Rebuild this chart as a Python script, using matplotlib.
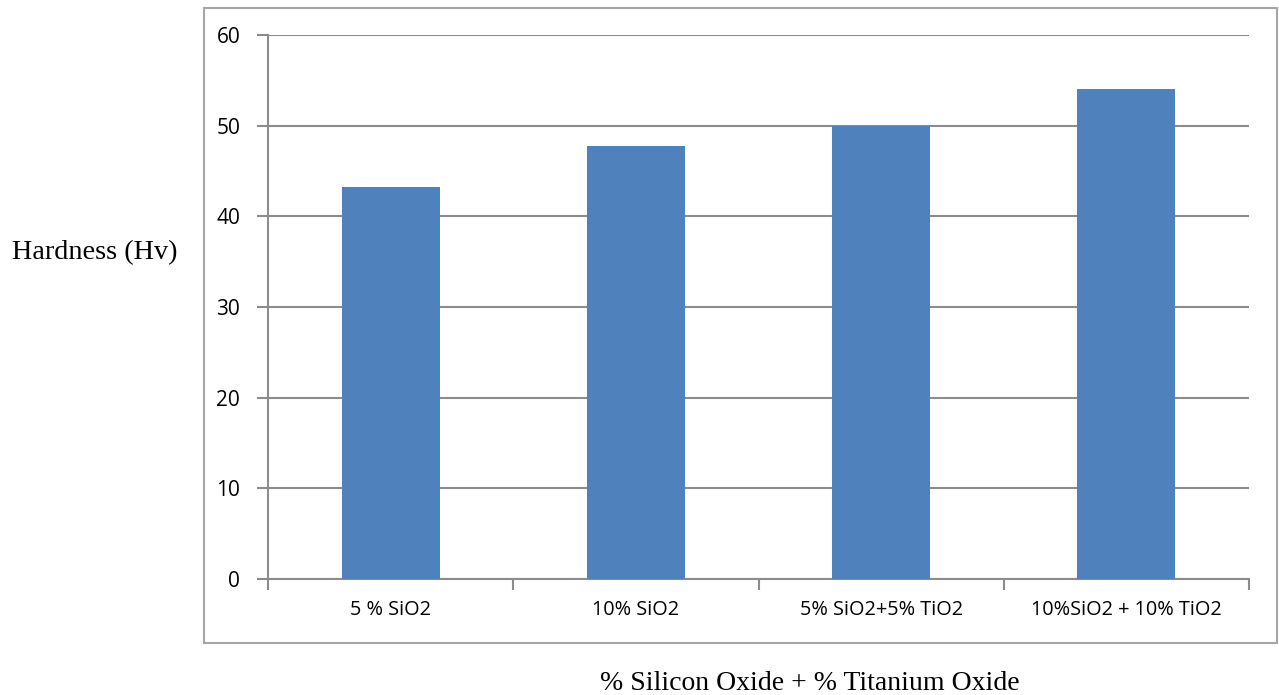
import matplotlib.pyplot as plt
from matplotlib.patches import Rectangle
import numpy as np

categories = ['5 % SiO2', '10% SiO2', '5% SiO2+5% TiO2', '10%SiO2 + 10% TiO2']
hardness = [43.2, 47.8, 50.0, 54.0]
yticks = [0, 10, 20, 30, 40, 50, 60]

grey = '#8c8c8c'

fig = plt.figure(figsize=(12.79, 6.95), dpi=100)
ax = fig.add_axes([268/1279, 1 - 579/695, (1249 - 268)/1279, (579 - 35)/695])

# outer chart frame
fig.patches.append(Rectangle((204/1279, 1 - 643/695), (1277 - 204)/1279, (643 - 8)/695,
                             transform=fig.transFigure, fill=False, edgecolor='#a6a6a6', lw=1.5))

x = np.arange(len(categories))
ax.bar(x, hardness, width=0.4, color='#4f81bd', zorder=3)

ax.set_xlim(-0.5, len(categories) - 0.5)
ax.set_ylim(0, 60)
ax.set_yticks(yticks)
ax.yaxis.grid(True, color=grey, lw=1.5, zorder=0)

for s in ['top', 'right']:
    ax.spines[s].set_visible(False)
for s in ['left', 'bottom']:
    ax.spines[s].set_color(grey)
    ax.spines[s].set_linewidth(1.5)

ax.set_xticks(x)
ax.set_xticklabels(categories, fontfamily='Open Sans', fontsize=14.3)
ax.set_xticks(np.arange(-0.5, len(categories)), minor=True)
ax.tick_params(axis='x', which='major', length=0, pad=15)
ax.tick_params(axis='x', which='minor', length=8, width=1.5, color=grey, direction='out')
ax.tick_params(axis='y', length=8, width=1.5, color=grey, pad=12, labelsize=15)
for lab in ax.get_yticklabels():
    lab.set_fontfamily('Open Sans')

fig.text(95/1279, 1 - 253/695, 'Hardness (Hv)', fontfamily='Liberation Serif', fontsize=20.3,
         ha='center', va='center')
fig.text(810/1279, 1 - 683/695, '% Silicon Oxide + % Titanium Oxide', fontfamily='Liberation Serif',
         fontsize=20, ha='center', va='center')

fig.savefig('out.png', dpi=100)
